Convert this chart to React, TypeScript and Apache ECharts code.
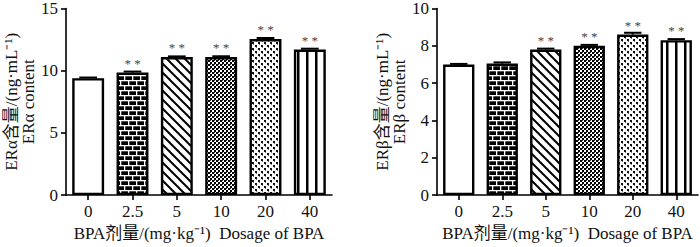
import React, { useEffect, useRef } from "react";
import * as echarts from "echarts";

const categories = ["0", "2.5", "5", "10", "20", "40"];
const alphaValues = [9.4, 9.85, 11.1, 11.1, 12.55, 11.7];
const alphaErrors = [0.05, 0.08, 0.05, 0.06, 0.08, 0.07];
const alphaSig = ["", "* *", "* *", "* *", "* *", "* *"];
const betaValues = [7.0, 7.05, 7.8, 8.0, 8.6, 8.3];
const betaErrors = [0.03, 0.06, 0.05, 0.05, 0.1, 0.06];
const betaSig = ["", "", "* *", "* *", "* *", "* *"];
const alphaTicks = { min: 0, max: 15, interval: 5 };
const betaTicks = { min: 0, max: 10, interval: 2 };
const alphaName = "ERα含量/(ng·mL⁻¹)\nERα content";
const betaName = "ERβ含量/(ng·mL⁻¹)\nERβ content";
const xName = "BPA剂量/(mg·kg⁻¹)  Dosage of BPA";

const FONT = "'Times New Roman', 'Liberation Serif', 'Noto Sans CJK SC', serif";

function makeCanvas(w: number, h: number, draw: (ctx: CanvasRenderingContext2D) => void) {
  const c = document.createElement("canvas");
  c.width = w;
  c.height = h;
  const ctx = c.getContext("2d")!;
  draw(ctx);
  return c;
}

function buildPatterns() {
  const white = "#ffffff";
  const brick = makeCanvas(8, 10, (ctx) => {
    ctx.fillStyle = "#000";
    ctx.fillRect(0, 0, 8, 10);
    ctx.fillStyle = white;
    ctx.fillRect(0, 0, 8, 1.3);
    ctx.fillRect(0, 5, 8, 1.3);
    ctx.fillRect(0, 0, 1.3, 5);
    ctx.fillRect(4, 5, 1.3, 5);
  });
  const diag = makeCanvas(9, 9, (ctx) => {
    ctx.fillStyle = white;
    ctx.fillRect(0, 0, 9, 9);
    ctx.strokeStyle = "#000";
    ctx.lineWidth = 2;
    for (let k = -1; k <= 1; k++) {
      ctx.beginPath();
      ctx.moveTo(k * 9 - 1, -1);
      ctx.lineTo(k * 9 + 10, 10);
      ctx.stroke();
    }
  });
  const checker = makeCanvas(4, 4, (ctx) => {
    ctx.fillStyle = white;
    ctx.fillRect(0, 0, 4, 4);
    ctx.fillStyle = "#000";
    ctx.fillRect(0, 0, 2, 2);
    ctx.fillRect(2, 2, 2, 2);
    ctx.fillStyle = "#333";
    ctx.fillRect(2, 0, 1, 1);
  });
  const dots = makeCanvas(6, 6, (ctx) => {
    ctx.fillStyle = white;
    ctx.fillRect(0, 0, 6, 6);
    ctx.fillStyle = "#111";
    ctx.fillRect(0, 0, 2, 2);
    ctx.fillRect(3, 3, 2, 2);
    ctx.fillStyle = "#777";
    ctx.fillRect(1, 2, 1, 1);
    ctx.fillRect(4, 5, 1, 1);
  });
  const vstripe = makeCanvas(9, 4, (ctx) => {
    ctx.fillStyle = white;
    ctx.fillRect(0, 0, 9, 4);
    ctx.fillStyle = "#000";
    ctx.fillRect(0, 0, 2.5, 4);
  });
  const pat = (img: HTMLCanvasElement) => ({ image: img, repeat: "repeat" });
  return ["#ffffff", pat(brick), pat(diag), pat(checker), pat(dots), pat(vstripe)];
}

export default function App() {
  const ref = useRef<HTMLDivElement>(null);
  useEffect(() => {
    if (!ref.current) return;
    const chart = echarts.init(ref.current, null, { renderer: "svg" });
    const fills = buildPatterns();

    const axisLine = { show: true, lineStyle: { color: "#000", width: 1.6 } };
    const axisTick = { show: true, length: 5, lineStyle: { color: "#000", width: 1.6 } };
    const labelStyle = { color: "#111", fontSize: 17, fontFamily: FONT };

    const xAxisFor = (gi: number) => ({
      type: "category",
      gridIndex: gi,
      data: categories,
      axisLine,
      axisTick: { ...axisTick, alignWithLabel: true },
      axisLabel: { ...labelStyle, margin: 8 },
      name: xName,
      nameLocation: "middle",
      nameGap: 29,
      nameTextStyle: { color: "#111", fontSize: 17, fontFamily: FONT },
      splitLine: { show: false },
    });
    const yAxisFor = (gi: number, t: any, name: string, gap: number) => ({
      type: "value",
      gridIndex: gi,
      min: t.min,
      max: t.max,
      interval: t.interval,
      axisLine,
      axisTick,
      axisLabel: { ...labelStyle, margin: 8 },
      splitLine: { show: false },
      name,
      nameLocation: "middle",
      nameRotate: 90,
      nameGap: gap,
      nameTextStyle: { color: "#111", fontSize: 17, fontFamily: FONT, lineHeight: 17, align: "center" },
    });

    const barSeries = (gi: number, values: number[], sig: string[]) => ({
      type: "bar",
      xAxisIndex: gi,
      yAxisIndex: gi,
      barWidth: "72%",
      label: {
        show: true,
        position: "top",
        distance: 3,
        formatter: (p: any) => sig[p.dataIndex],
        color: "#444444",
        fontSize: 13,
        fontFamily: FONT,
      },
      data: values.map((v, i) => ({
        value: v,
        itemStyle: { color: fills[i] as any, borderColor: "#000", borderWidth: 2.4 },
      })),
    });

    const errSeries = (gi: number, values: number[], errs: number[]) => ({
      type: "custom",
      xAxisIndex: gi,
      yAxisIndex: gi,
      z: 5,
      data: values.map((v, i) => [i, v, errs[i]]),
      renderItem: (params: any, api: any) => {
        const x = api.value(0);
        const y = api.value(1);
        const e = api.value(2);
        const base = api.coord([x, y]);
        const top = api.coord([x, y + e]);
        const half = api.size([1, 0])[0] * 0.2;
        const style = { stroke: "#000", lineWidth: 2, fill: "none" };
        return {
          type: "group",
          children: [
            { type: "line", shape: { x1: base[0], y1: base[1], x2: top[0], y2: top[1] }, style },
            { type: "line", shape: { x1: top[0] - half, y1: top[1], x2: top[0] + half, y2: top[1] }, style },
          ],
        };
      },
    });

    chart.setOption({
      animation: false,
      backgroundColor: "#ffffff",
      grid: [
        { left: 66, top: 7, width: 266, height: 192, containLabel: false },
        { left: 437, top: 7, width: 261, height: 192, containLabel: false },
      ],
      xAxis: [xAxisFor(0), xAxisFor(1)],
      yAxis: [
        yAxisFor(0, alphaTicks, alphaName, 28),
        yAxisFor(1, betaTicks, betaName, 29),
      ],
      series: [
        barSeries(0, alphaValues, alphaSig),
        errSeries(0, alphaValues, alphaErrors),
        barSeries(1, betaValues, betaSig),
        errSeries(1, betaValues, betaErrors),
      ],
    } as any);
    return () => chart.dispose();
  }, []);
  return (
    <div
      ref={ref}
      style={{ position: "fixed", left: 0, top: 0, width: 700, height: 247, background: "#fff" }}
    />
  );
}
